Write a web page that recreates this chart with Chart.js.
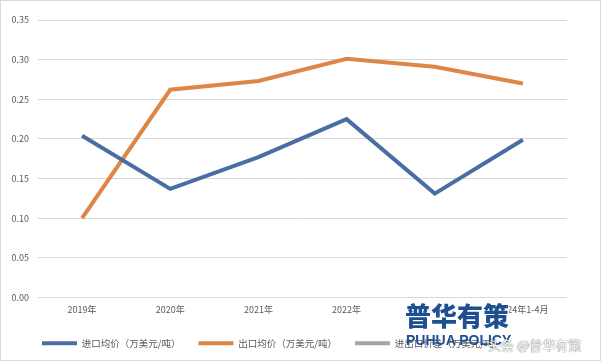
<html>
<head>
    <title>进出口均价</title>
    <script src="https://cdn.jsdelivr.net/npm/chart.js@4.4.0/dist/chart.umd.min.js"></script>
    <style>
        body { margin: 0; background: #fff; }
        #box { position: relative; width: 599px; height: 359px; border: 1px solid #d9d9d9; }
        .logo { position: absolute; left: 404px; top: 299px; font-family: 'Noto Sans CJK SC'; font-weight: 900;
                font-size: 26px; color: #1d4f91; line-height: 30px; background: rgba(255,255,255,0.85); }
        .logo2 { position: absolute; left: 405px; top: 331px; font-family: 'Liberation Sans'; font-weight: bold;
                 font-size: 14px; color: #1d4f91; line-height: 16px; }
        .mark { position: absolute; left: 487px; top: 336px; font-family: 'Noto Sans CJK SC'; font-size: 13px;
                color: #fff; text-shadow: 0 0 1px #666, 0 0 1px #666; line-height: 16px; }
    </style>
</head>
<body>
<div id="box">
    <canvas id="priceChart" width="599" height="359"></canvas>
    <div class="logo">普华有策</div>
    <div class="logo2">PUHUA POLICY</div>
    <div class="mark">头条 @普华有策</div>
</div>

<script>
  const years = ['2019年', '2020年', '2021年', '2022年', '2023年', '2024年1-4月']
  const importPrice = [0.204, 0.137, 0.177, 0.225, 0.131, 0.199]
  const exportPrice = [0.100, 0.262, 0.273, 0.301, 0.291, 0.270]
  const priceGap = [null, null, null, null, null, null]
  const yTicks = [0, 0.05, 0.10, 0.15, 0.20, 0.25, 0.30, 0.35]

  const font = "'Noto Sans CJK SC', 'Liberation Sans', sans-serif"

  // push the legend row a bit to the left like the excel original
  const legendShift = {
    id: 'legendShift',
    afterLayout: function (chart) { chart.legend.left = 23 }
  }

  new Chart(document.getElementById('priceChart'), {
    type: 'line',
    data: {
      labels: years,
      datasets: [
        { label: '进口均价（万美元/吨）', data: importPrice, borderColor: '#4a6ea3', backgroundColor: '#4a6ea3' },
        { label: '出口均价（万美元/吨）', data: exportPrice, borderColor: '#dd8646', backgroundColor: '#dd8646' },
        { label: '进出口价差（万美元/吨）', data: priceGap, borderColor: '#a5a5a5', backgroundColor: '#a5a5a5' }
      ]
    },
    plugins: [legendShift],
    options: {
      responsive: false,
      animation: false,
      elements: {
        line: { borderWidth: 4, tension: 0 },
        point: { radius: 0 }
      },
      layout: { padding: { left: 0, right: 33, top: 19, bottom: 2 } },
      scales: {
        x: {
          offset: true,
          afterFit: function (s) { s.height = 23 },
          grid: { display: false, drawTicks: false },
          border: { display: false },
          ticks: { color: '#595959', font: { family: font, size: 9 }, padding: 7, maxRotation: 0 }
        },
        y: {
          min: 0,
          max: 0.35,
          afterFit: function (s) { s.width = 37 },
          afterBuildTicks: function (s) { s.ticks = yTicks.map(v => ({ value: v })) },
          grid: { color: '#d9d9d9', drawTicks: false },
          border: { display: false },
          ticks: { color: '#595959', font: { family: font, size: 9 }, padding: 9,
                   callback: v => Number(v).toFixed(2) }
        }
      },
      plugins: {
        tooltip: { enabled: false },
        legend: {
          position: 'bottom',
          align: 'start',
          labels: {
            boxWidth: 35, boxHeight: 4, color: '#595959', padding: 18,
            font: { family: font, size: 9.5 },
            generateLabels: function (chart) {
              const items = Chart.defaults.plugins.legend.labels.generateLabels(chart)
              items.forEach(it => { it.lineWidth = 0 })
              return items
            }
          }
        }
      }
    }
  })
</script>
</body>
</html>
